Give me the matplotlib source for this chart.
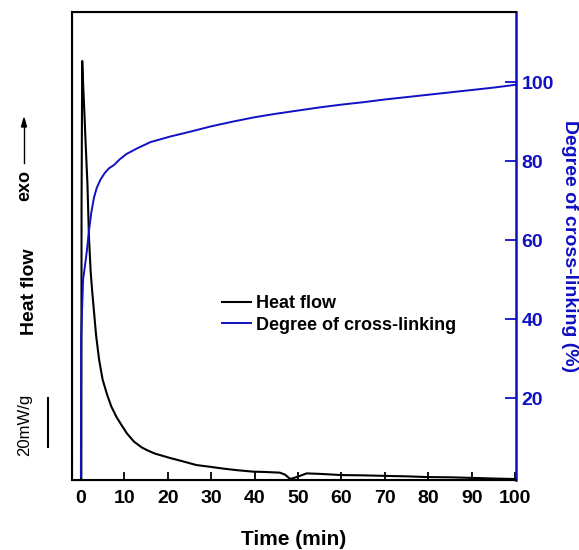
import numpy as np
import matplotlib.pyplot as plt
from matplotlib.lines import Line2D

plt.rcParams['font.family'] = ['Liberation Sans', 'DejaVu Sans']
plt.rcParams['font.weight'] = 'bold'

# heat flow (mW/g) vs time (min)
t_hf = [0.1, 0.15, 0.3, 0.55, 0.8, 1.1, 1.5, 1.86, 2.25, 2.6, 3.0, 3.5, 4.2,
        5.0, 6.0, 7.0, 8.2, 9.5, 10.6, 12.2, 14.0, 15.2, 17.0, 20.5, 23.5,
        26.6, 29.7, 33.0, 36.0, 39.7, 42.0, 45.8, 47.0, 48.2, 49.7, 52.0,
        55.0, 60.2, 65.0, 71.9, 75.0, 79.7, 85.0, 91.3, 95.0, 100.0]
hf = [0, 112, 171, 160, 150, 137, 121, 99, 85, 77, 69, 59, 49,
      41, 35, 30, 25.7, 22, 19, 15.7, 13.3, 12.2, 10.8, 9.0, 7.6,
      6.1, 5.4, 4.6, 4.0, 3.4, 3.3, 3.0, 2.2, 0.4, 1.2, 2.7,
      2.5, 2.0, 1.9, 1.6, 1.5, 1.2, 1.1, 0.8, 0.6, 0.4]

# degree of cross-linking (%) vs time (min)
t_dc = [0.0, 0.05, 0.5, 1.0, 1.34, 1.87, 2.4, 3.0, 3.64, 4.5, 5.5, 6.5, 7.6,
        9.0, 10.5, 12.9, 16.0, 20.5, 25.0, 30.0, 35.0, 40.0, 45.0, 50.0,
        55.0, 60.0, 65.0, 70.0, 75.0, 80.0, 85.0, 90.0, 95.0, 100.0]
dc = [0.0, 35, 50, 54, 57, 62.5, 67, 70.7, 73.2, 75.3, 77, 78.2, 79,
      80.5, 81.8, 83.2, 84.8, 86.2, 87.4, 88.8, 90, 91.1, 92, 92.8,
      93.6, 94.3, 94.9, 95.6, 96.2, 96.8, 97.4, 98, 98.6, 99.3]

xticks = np.arange(0, 101, 10)
rticks = [20, 40, 60, 80, 100]
blue = '#1010c4'

fig = plt.figure(figsize=(5.79, 5.5), dpi=100)
ax = fig.add_axes([72/579, 1 - 480/550, 444/579, 468/550])
ax2 = ax.twinx()

l1, = ax.plot(t_hf, hf, color='black', lw=1.5, label='Heat flow')
l2, = ax2.plot(t_dc, dc, color=blue, lw=1.4, label='Degree of cross-linking')

ax.set_xlim(-2.05, 100.2)
ax.set_ylim(0, 191)
ax2.set_ylim(-0.75, 117.75)

ax.set_xticks(xticks)
ax.tick_params(axis='x', direction='in', length=6, width=1.3, labelsize=14, pad=7)
ax.set_yticks([])
ax.set_xlabel('Time (min)', fontsize=15, fontweight='bold', labelpad=17)

ax2.set_yticks(rticks)
ax2.tick_params(axis='y', direction='in', length=8, width=1.3, labelsize=14,
                pad=4, colors=blue)
ax2.set_ylabel('Degree of cross-linking (%)', fontsize=14, fontweight='bold',
               color=blue, rotation=270, labelpad=17)

for s in ['left', 'bottom', 'top']:
    ax2.spines[s].set_linewidth(1.5)
    ax2.spines[s].set_color('black')
ax2.spines['right'].set_color(blue)
ax2.spines['right'].set_linewidth(1.8)

ax2.legend(handles=[l1, l2], loc='upper left', bbox_to_anchor=(0.338, 0.395),
           frameon=False, fontsize=13, handlelength=1.6, handletextpad=0.3,
           labelspacing=0.25, borderpad=0, borderaxespad=0)

# left side annotations
W, H = 579, 550
fig.text(30/W, 1 - 292/H, 'Heat flow', rotation=90, fontsize=14, fontweight='bold',
         ha='center', va='center')
fig.text(25/W, 1 - 185/H, 'exo', rotation=90, fontsize=13, fontweight='bold',
         ha='center', va='center')
fig.text(25/W, 1 - 425/H, '20mW/g', rotation=90, fontsize=12, fontweight='normal',
         ha='center', va='center')
fig.add_artist(Line2D([48/W, 48/W], [1 - 398/H, 1 - 447/H], color='black', lw=1.5,
                      transform=fig.transFigure))
fig.add_artist(Line2D([24/W, 24/W], [1 - 163/H, 1 - 126/H], color='black', lw=1.0,
                      transform=fig.transFigure))
fig.patches.append(plt.Polygon([[21.5/W, 1 - 127/H], [26.5/W, 1 - 127/H], [24/W, 1 - 118/H]],
                               closed=True, color='black', transform=fig.transFigure))

fig.savefig('out.png', dpi=100)
